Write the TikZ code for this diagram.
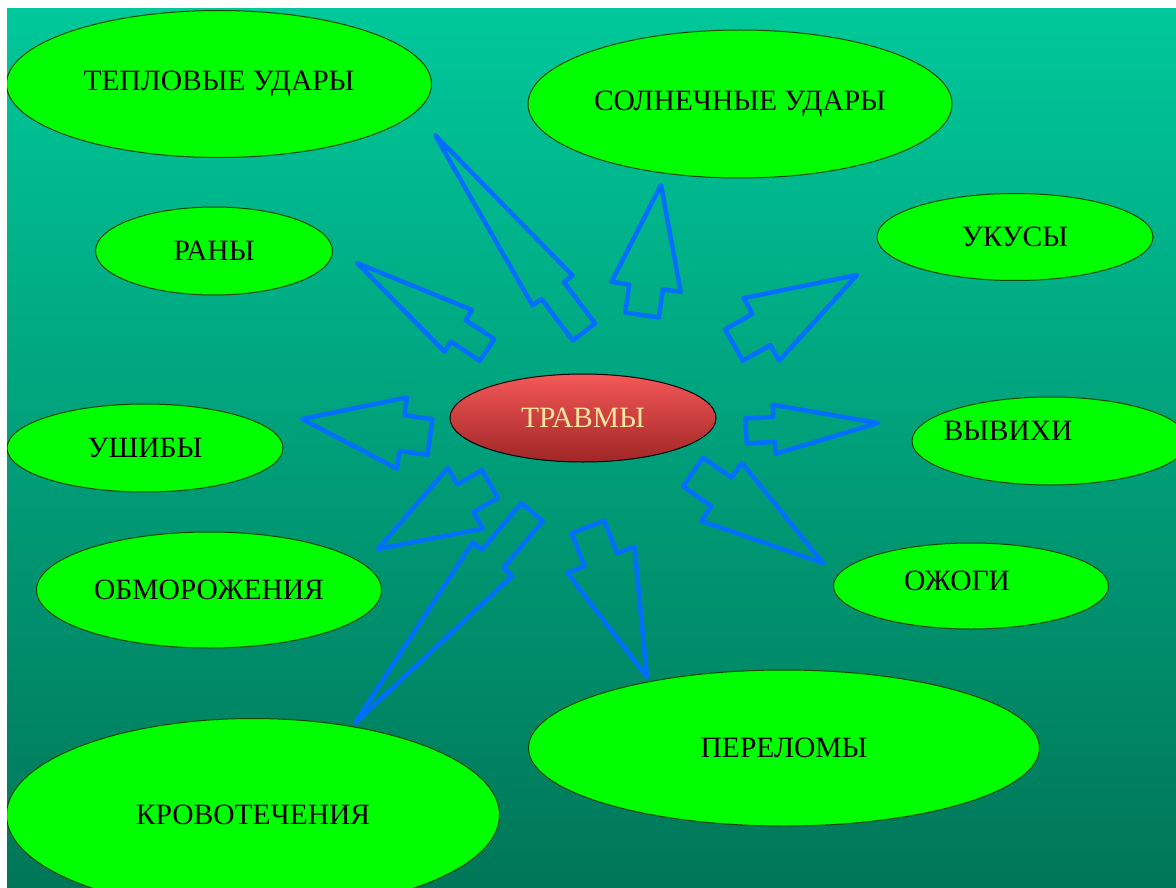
\documentclass[tikz,border=0pt]{standalone}
\usepackage{fontspec}
\setmainfont{Liberation Serif}
\usepackage{tikz}
\usetikzlibrary{calc,shapes.geometric}

\definecolor{bgtop}{RGB}{0,200,155}
\definecolor{bgbot}{RGB}{0,118,88}
\definecolor{leafgreen}{RGB}{0,255,0}
\definecolor{leafline}{RGB}{20,70,0}
\definecolor{arrblue}{RGB}{0,110,255}
\definecolor{hubtop}{RGB}{245,88,88}
\definecolor{hubbot}{RGB}{160,38,38}
\definecolor{hubtext}{RGB}{255,230,160}

% block arrow: tail, tip, shaft half width, head half width, head length
\newcommand{\blockarrow}[5]{%
  \coordinate (#1-base) at ($(#2)!#5pt!(#1)$);
  \draw[blockarr] ($(#1)!#3pt!90:(#2)$) -- ($(#1-base)!#3pt!90:(#2)$) -- ($(#1-base)!#4pt!90:(#2)$) -- (#2)
    -- ($(#1-base)!#4pt!-90:(#2)$) -- ($(#1-base)!#3pt!-90:(#2)$) -- ($(#1)!#3pt!-90:(#2)$) -- cycle;}

\begin{document}
\begin{tikzpicture}[x=1pt, y=-1pt, every node/.style={font=\fontsize{29.5}{33}\selectfont},
  blob/.style={ellipse, draw=leafline, line width=1pt, fill=leafgreen, inner sep=0pt, text=black},
  hub/.style={ellipse, draw=black, line width=1pt, top color=hubtop, bottom color=hubbot, inner sep=0pt, text=hubtext},
  blockarr/.style={draw=arrblue, line width=4.5pt, line join=round}]
\useasboundingbox (0,0) rectangle (1176,888);
\fill[white] (0,0) rectangle (1176,888);
\clip (7,9) rectangle (1176,888);
\fill[top color=bgtop, bottom color=bgbot] (7,9) rectangle (1176,888);

% centre and topics
\node[hub, minimum width=266pt, minimum height=88pt] (trav) at (583,418) {ТРАВМЫ};
\node[blob, minimum width=425pt, minimum height=147pt] (tepl) at (219,84) {ТЕПЛОВЫЕ УДАРЫ};
\node[blob, minimum width=424pt, minimum height=148pt] (soln) at (740,104) {СОЛНЕЧНЫЕ УДАРЫ};
\node[blob, minimum width=276pt, minimum height=87pt] (ukus) at (1015,237) {УКУСЫ};
\node[blob, minimum width=237pt, minimum height=88pt] (rany) at (214,251) {РАНЫ};
\node[blob, minimum width=276pt, minimum height=88pt] (ushib) at (145,448) {УШИБЫ};
\node[blob, minimum width=276pt, minimum height=88pt] (vyv) at (1050,441) {};
\node (vyv-txt) at (1008,431) {ВЫВИХИ};
\node[blob, minimum width=275pt, minimum height=86pt] (ozhog) at (971,586) {};
\node (ozhog-txt) at (957,581) {ОЖОГИ};
\node[blob, minimum width=345pt, minimum height=116pt] (obmor) at (209,590) {ОБМОРОЖЕНИЯ};
\node[blob, minimum width=511pt, minimum height=156pt] (perel) at (784,748) {ПЕРЕЛОМЫ};
\node[blob, minimum width=493pt, minimum height=193pt] (krov) at (253,815) {КРОВОТЕЧЕНИЯ};

% arrow ends
\coordinate (tep-t) at (584,332); \coordinate (tep-p) at (435,135);
\coordinate (sol-t) at (642,315); \coordinate (sol-p) at (661,185);
\coordinate (uku-t) at (734,345); \coordinate (uku-p) at (857,275);
\coordinate (ran-t) at (487,350); \coordinate (ran-p) at (357,263);
\coordinate (ush-t) at (430,437); \coordinate (ush-p) at (302,419);
\coordinate (vyv-t) at (746,431); \coordinate (vyv-p) at (878,423);
\coordinate (obm-t) at (490,484); \coordinate (obm-p) at (378,549);
\coordinate (krv-t) at (532,512); \coordinate (krv-p) at (355,723);
\coordinate (per-t) at (588,527); \coordinate (per-p) at (647,677);
\coordinate (ozh-t) at (693,472); \coordinate (ozh-p) at (823,563);

\blockarrow{tep-t}{tep-p}{14}{25}{195}
\blockarrow{sol-t}{sol-p}{17}{35}{103}
\blockarrow{uku-t}{uku-p}{18}{36}{110}
\blockarrow{ran-t}{ran-p}{13}{25}{122}
\blockarrow{ush-t}{ush-p}{18}{36}{101}
\blockarrow{vyv-t}{vyv-p}{12.5}{24.5}{104}
\blockarrow{obm-t}{obm-p}{16}{35}{101}
\blockarrow{krv-t}{krv-p}{14}{26}{214}
\blockarrow{per-t}{per-p}{17.5}{36}{126}
\blockarrow{ozh-t}{ozh-p}{17.5}{35.5}{124}
\end{tikzpicture}
\end{document}
